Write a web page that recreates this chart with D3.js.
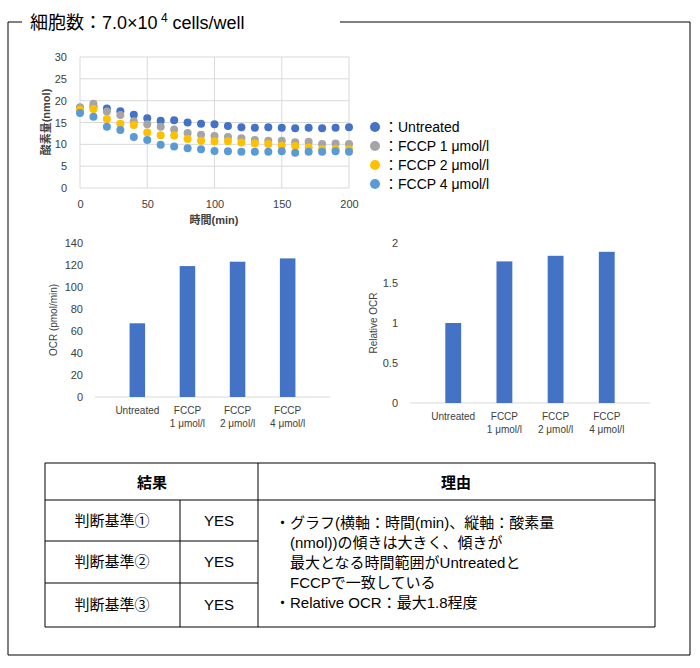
<!DOCTYPE html>
<html><head><meta charset="utf-8">
<script src="https://cdn.jsdelivr.net/npm/d3@7"></script>
<style>body{margin:0;background:#fff;font-family:"Liberation Sans","Noto Sans CJK JP",sans-serif;}</style>
</head><body><svg id="c" width="700" height="668"></svg>
<script>
// Data
var times = d3.range(0, 201, 10);
var seriesNames = ['Untreated', 'FCCP 1 μmol/l', 'FCCP 2 μmol/l', 'FCCP 4 μmol/l'];
var seriesColors = ['#4472c4', '#a5a5a5', '#ffc000', '#5b9bd5'];
var untreated = [18.2,18.6,18.2,17.6,16.8,16.0,15.4,15.5,15.0,14.7,14.6,14.2,13.9,13.8,13.9,13.8,13.7,13.8,13.7,13.8,13.9];
var fccp1 = [18.5,19.3,17.5,16.7,15.3,14.6,14.0,13.4,12.6,12.2,11.9,11.7,11.4,11.0,10.8,10.8,10.5,10.6,10.1,10.2,10.1];
var fccp2 = [17.9,18.1,15.8,14.7,14.4,12.7,12.1,12.0,11.2,10.8,10.7,10.7,10.4,10.2,10.1,9.7,9.6,9.3,8.9,8.9,8.9];
var fccp4 = [17.2,16.3,14.0,13.3,11.7,11.0,9.9,9.5,9.1,8.9,8.5,8.4,8.3,8.3,8.3,8.4,8.1,8.3,8.3,8.4,8.3];
var barCats = [['Untreated'], ['FCCP', '1 μmol/l'], ['FCCP', '2 μmol/l'], ['FCCP', '4 μmol/l']];
var ocr = [67, 119, 123, 126];
var relOcr = [1, 1.77, 1.84, 1.89];

var svg = d3.select('#c');
var font = '"Liberation Sans","Noto Sans CJK JP",sans-serif';

// Frame with title
svg.append('path').attr('d', 'M22,22 H8 V655 H690 V22 H340').attr('fill', 'none').attr('stroke', '#000').attr('stroke-width', 1);
var title = svg.append('text').attr('x', 30).attr('y', 29).attr('font-size', 18).attr('font-family', font);
title.append('tspan').text('細胞数：7.0×10');
title.append('tspan').attr('dy', -7).attr('font-size', 12).text(' 4');
title.append('tspan').attr('dy', 7).text(' cells/well');

function styleAxis(g) {
  g.select('.domain').remove();
  g.selectAll('.tick line').remove();
  g.selectAll('text').attr('font-size', 11).attr('fill', '#404040').attr('font-family', font);
}

// Scatter chart
var sx = d3.scaleLinear().domain([0, 200]).range([80, 349]);
var sy = d3.scaleLinear().domain([0, 30]).range([188, 57]);
var sg = svg.append('g');
sy.ticks(6).forEach(function(t) {
  sg.append('line').attr('x1', 80).attr('x2', 349).attr('y1', sy(t)).attr('y2', sy(t)).attr('stroke', '#d9d9d9');
});
sx.ticks(4).forEach(function(t) {
  sg.append('line').attr('x1', sx(t)).attr('x2', sx(t)).attr('y1', 57).attr('y2', 188).attr('stroke', '#d9d9d9');
});
sg.append('g').attr('transform', 'translate(0,191)').call(d3.axisBottom(sx).ticks(4)).call(styleAxis);
sg.append('g').attr('transform', 'translate(76,0)').call(d3.axisLeft(sy).ticks(6)).call(styleAxis);
[untreated, fccp1, fccp2, fccp4].forEach(function(vals, si) {
  sg.selectAll(null).data(vals).enter().append('circle')
    .attr('cx', function(d, i) { return sx(times[i]); })
    .attr('cy', function(d) { return sy(d); })
    .attr('r', 4).attr('fill', seriesColors[si]);
});
sg.append('text').attr('x', 214).attr('y', 224).attr('text-anchor', 'middle').attr('font-size', 11).attr('font-weight', 'bold').attr('fill', '#404040').attr('font-family', font).text('時間(min)');
sg.append('text').attr('transform', 'translate(50,122) rotate(-90)').attr('text-anchor', 'middle').attr('font-size', 11).attr('font-weight', 'bold').attr('fill', '#404040').attr('font-family', font).text('酸素量(nmol)');

// Legend
seriesNames.forEach(function(n, i) {
  var y = 127 + i * 19;
  svg.append('circle').attr('cx', 375).attr('cy', y).attr('r', 5).attr('fill', seriesColors[i]);
  svg.append('text').attr('x', 384).attr('y', y + 5).attr('font-size', 14).attr('font-family', font).text('：' + n);
});

// Bar charts
function barChart(vals, x0, x1, y0, y1, max, step, label, labX) {
  var g = svg.append('g');
  var x = d3.scaleBand().domain(d3.range(vals.length)).range([x0, x1]).padding(0.69);
  var y = d3.scaleLinear().domain([0, max]).range([y1, y0]);
  g.append('g').attr('transform', 'translate(' + (x0 - 3) + ',0)')
    .call(d3.axisLeft(y).tickValues(d3.range(0, max + step / 2, step)).tickFormat(d3.format('~g'))).call(styleAxis);
  g.append('line').attr('x1', x0).attr('x2', x1).attr('y1', y1).attr('y2', y1).attr('stroke', '#d9d9d9');
  g.selectAll(null).data(vals).enter().append('rect')
    .attr('x', function(d, i) { return x(i); })
    .attr('width', x.bandwidth())
    .attr('y', function(d) { return y(d); })
    .attr('height', function(d) { return y1 - y(d); })
    .attr('fill', '#4472c4');
  barCats.forEach(function(lines, i) {
    var t = g.append('text').attr('text-anchor', 'middle').attr('font-size', 10).attr('fill', '#404040').attr('font-family', font);
    lines.forEach(function(l, j) {
      t.append('tspan').attr('x', x(i) + x.bandwidth() / 2).attr('y', y1 + 17 + j * 13).text(l);
    });
  });
  g.append('text').attr('transform', 'translate(' + labX + ',' + ((y0 + y1) / 2) + ') rotate(-90)').attr('text-anchor', 'middle').attr('font-size', 10).attr('fill', '#404040').attr('font-family', font).text(label);
}
barChart(ocr, 95, 330, 243, 397, 140, 20, 'OCR (pmol/min)', 57);
barChart(relOcr, 410, 650, 243, 403, 2, 0.5, 'Relative OCR', 377);

// Table
var tg = svg.append('g').attr('font-family', font);
var tl = [[45, 463, 655, 463], [45, 500, 655, 500], [45, 541, 258, 541], [45, 583, 258, 583], [45, 627, 655, 627],
  [45, 463, 45, 627], [258, 463, 258, 627], [655, 463, 655, 627], [180, 500, 180, 627]];
tl.forEach(function(l) {
  tg.append('line').attr('x1', l[0]).attr('y1', l[1]).attr('x2', l[2]).attr('y2', l[3]).attr('stroke', '#000');
});
tg.append('text').attr('x', 152).attr('y', 488).attr('text-anchor', 'middle').attr('font-size', 15).attr('font-weight', 'bold').text('結果');
tg.append('text').attr('x', 456).attr('y', 488).attr('text-anchor', 'middle').attr('font-size', 15).attr('font-weight', 'bold').text('理由');
var crit = ['判断基準①', '判断基準②', '判断基準③'];
var rowMid = [521, 562, 605];
crit.forEach(function(c, i) {
  tg.append('text').attr('x', 112).attr('y', rowMid[i] + 5).attr('text-anchor', 'middle').attr('font-size', 15).text(c);
  tg.append('text').attr('x', 219).attr('y', rowMid[i] + 5).attr('text-anchor', 'middle').attr('font-size', 15).text('YES');
});
var reason = ['・グラフ(横軸：時間(min)、縦軸：酸素量', '　(nmol))の傾きは大きく、傾きが', '　最大となる時間範囲がUntreatedと', '　FCCPで一致している', '・Relative OCR：最大1.8程度'];
reason.forEach(function(r, i) {
  tg.append('text').attr('x', 275).attr('y', 528 + i * 20).attr('font-size', 15).text(r);
});
</script></body></html>
